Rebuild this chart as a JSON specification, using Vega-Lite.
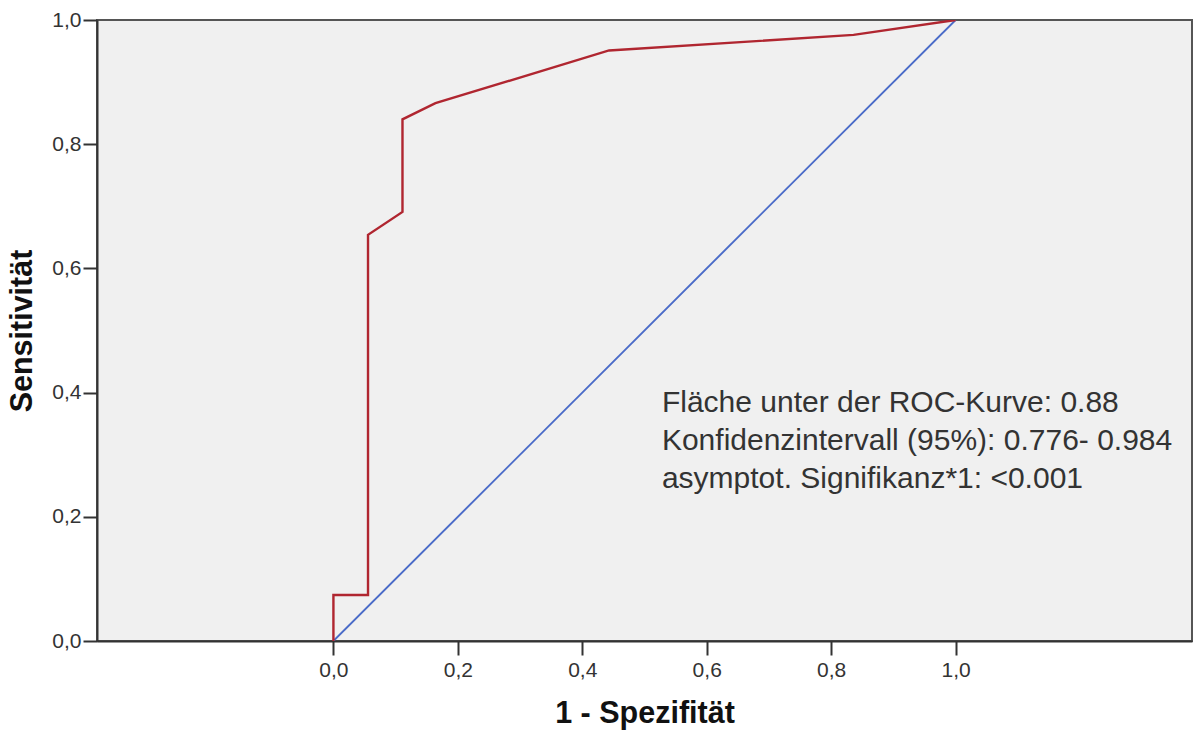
{
  "$schema": "https://vega.github.io/schema/vega-lite/v6.json",
  "autosize": {"type": "none"},
  "width": 1095,
  "height": 621,
  "padding": {"left": 97, "top": 20, "right": 7, "bottom": 90},
  "background": "#ffffff",
  "config": {
    "view": {"fill": "#f0f0f0", "stroke": "#555555", "strokeWidth": 2},
    "font": "Liberation Sans",
    "axis": {
      "grid": false,
      "domainColor": "#333333",
      "domainWidth": 2,
      "tickColor": "#333333",
      "tickWidth": 2,
      "tickSize": 14,
      "labelFont": "Liberation Sans",
      "labelFontSize": 21,
      "labelColor": "#333333",
      "titleFont": "Liberation Sans",
      "titleFontSize": 30.5,
      "titleFontWeight": "bold",
      "titleColor": "#111111"
    }
  },
  "datasets": {
    "roc": [
      {"fpr": 0.0, "tpr": 0.0, "order": 0},
      {"fpr": 0.0, "tpr": 0.074, "order": 1},
      {"fpr": 0.0556, "tpr": 0.074, "order": 2},
      {"fpr": 0.0556, "tpr": 0.654, "order": 3},
      {"fpr": 0.111, "tpr": 0.691, "order": 4},
      {"fpr": 0.111, "tpr": 0.840, "order": 5},
      {"fpr": 0.164, "tpr": 0.866, "order": 6},
      {"fpr": 0.443, "tpr": 0.951, "order": 7},
      {"fpr": 0.836, "tpr": 0.976, "order": 8},
      {"fpr": 1.0, "tpr": 1.0, "order": 9}
    ],
    "ref": [
      {"fpr": 0.0, "tpr": 0.0},
      {"fpr": 1.0, "tpr": 1.0}
    ],
    "notes": [
      {"x": 0.528, "y": 0.369, "label": "Fläche unter der ROC-Kurve: 0.88"},
      {"x": 0.528, "y": 0.3076, "label": "Konfidenzintervall (95%): 0.776- 0.984"},
      {"x": 0.528, "y": 0.246, "label": "asymptot. Signifikanz*1: <0.001"}
    ]
  },
  "layer": [
    {
      "data": {"name": "ref"},
      "mark": {"type": "line", "color": "#4a6bc8", "strokeWidth": 1.9, "clip": true},
      "encoding": {
        "x": {
          "field": "fpr", "type": "quantitative",
          "scale": {"domain": [-0.38, 1.38], "nice": false, "zero": false},
          "axis": {
            "values": [0, 0.2, 0.4, 0.6, 0.8, 1.0],
            "labelExpr": "replace(format(datum.value, '.1f'), '.', ',')",
            "title": "1 - Spezifität",
            "titlePadding": 18,
            "labelPadding": 4
          }
        },
        "y": {
          "field": "tpr", "type": "quantitative",
          "scale": {"domain": [0, 1], "nice": false},
          "axis": {
            "values": [0, 0.2, 0.4, 0.6, 0.8, 1.0],
            "labelExpr": "replace(format(datum.value, '.1f'), '.', ',')",
            "title": "Sensitivität",
            "titlePadding": 14,
            "labelPadding": 2
          }
        }
      }
    },
    {
      "data": {"name": "roc"},
      "mark": {"type": "line", "color": "#b02630", "strokeWidth": 2.4, "clip": true},
      "encoding": {
        "x": {"field": "fpr", "type": "quantitative"},
        "y": {"field": "tpr", "type": "quantitative"},
        "order": {"field": "order", "type": "quantitative"}
      }
    },
    {
      "data": {"name": "notes"},
      "mark": {"type": "text", "align": "left", "baseline": "alphabetic", "fontSize": 30, "color": "#333333", "font": "Liberation Sans"},
      "encoding": {
        "x": {"field": "x", "type": "quantitative"},
        "y": {"field": "y", "type": "quantitative"},
        "text": {"field": "label"}
      }
    }
  ]
}
